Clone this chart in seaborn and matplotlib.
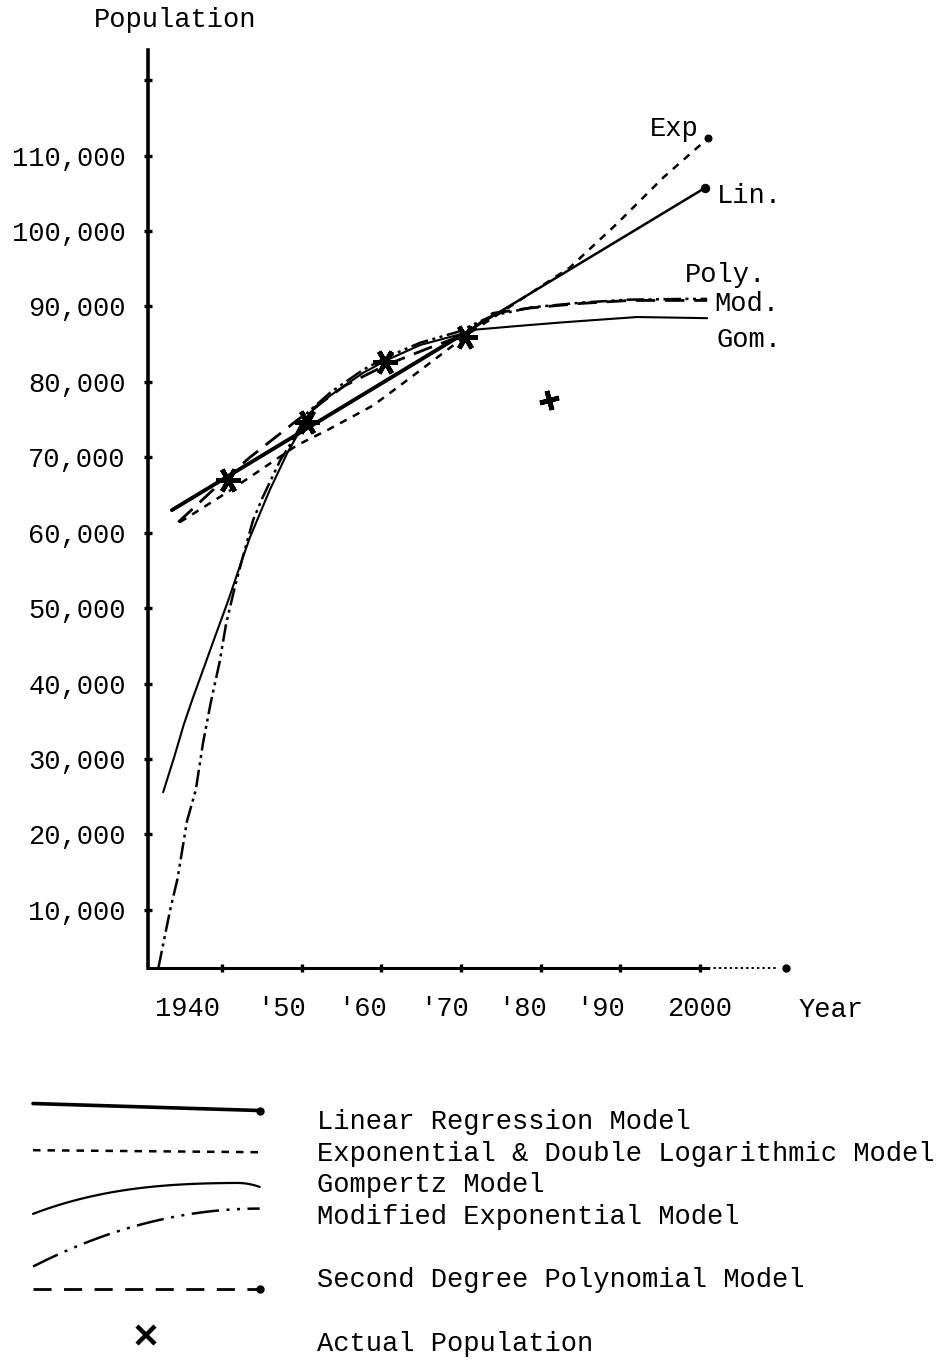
import numpy as np
import matplotlib
matplotlib.use("Agg")
import matplotlib.pyplot as plt
import matplotlib.transforms as mtransforms
from matplotlib.lines import Line2D
from matplotlib.legend_handler import HandlerBase
import seaborn as sns

# ---------------------------------------------------------------- data
lin_years = [1933.7, 1970.5, 2000.6]
lin_values = [63000, 86500, 105700]

exp_years = [1934.7, 1941.0, 1949.4, 1953.2, 1959.0, 1963.2, 1971.1,
             1983.7, 1989.6, 1995.4, 2001.0]
exp_values = [61400, 65600, 71600, 73600, 76900, 80200, 86500,
              95200, 101000, 107100, 112300]

gom_years = [1932.6, 1934.0, 1935.2, 1936.3, 1937.4, 1938.9, 1940.8, 1942.5,
             1943.5, 1946.0, 1948.2, 1949.8, 1951.0, 1953.6, 1957.7, 1960.7,
             1964.9, 1969.5, 1971.5, 1977.0, 1982.8, 1992.1, 2000.9]
gom_values = [25600, 30300, 34600, 38000, 41200, 45600, 51100, 56400,
              59400, 65700, 70600, 73600, 75900, 78200, 81200, 82900,
              84900, 86200, 86900, 87400, 87900, 88600, 88450]

mod_years = [1932.0, 1933.5, 1934.4, 1935.6, 1936.7, 1937.6, 1938.6, 1939.7,
             1940.5, 1941.6, 1942.5, 1943.9, 1945.1, 1947.3, 1948.9, 1950.7,
             1953.6, 1957.7, 1960.7, 1964.9, 1969.5, 1974.0, 1979.0, 1985.0,
             1991.0, 1997.9, 2000.9]
mod_values = [2300, 10100, 14100, 21800, 25900, 32100, 37600, 42900,
              47900, 52800, 56400, 61700, 64700, 69600, 72300, 75900,
              78600, 81600, 83300, 85200, 86600, 88800, 89900, 90500,
              90900, 91000, 91000]

poly_years = [1934.5, 1940.0, 1943.5, 1949.4, 1955.4, 1960.5, 1965.5,
              1970.5, 1974.0, 1978.7, 1985.0, 1991.2, 2000.9]
poly_values = [61400, 66800, 70000, 74900, 79500, 82200, 84300,
               86300, 89100, 89800, 90400, 90800, 90800]

actual_years = [1940.8, 1950.7, 1960.5, 1970.5, 1981.0]
actual_values = [67000, 74700, 82600, 86000, 77600]

year_ticks = [1940, 1950, 1960, 1970, 1980, 1990, 2000]
year_labels = ["1940", "'50", "'60", "'70", "'80", "'90", "2000"]
pop_ticks = [10000, 20000, 30000, 40000, 50000, 60000, 70000, 80000,
             90000, 100000, 110000, 120000]
pop_labels = ["10,000", "20,000", "30,000", "40,000", "50,000", "60,000",
              "70,000", "80,000", "90,000", "100,000", "110,000", ""]

legend_labels = ["Linear Regression Model",
                 "Exponential & Double Logarithmic Model",
                 "Gompertz Model",
                 "Modified Exponential Model",
                 "Second Degree Polynomial Model",
                 "Actual Population"]

# ---------------------------------------------------------------- style
sns.set_theme(style="white")
plt.rcParams["font.family"] = ["Liberation Mono", "DejaVu Sans Mono"]
FS = 19.5
INK = "black"

X0, X1 = 1930.7, 2011.3
Y0, Y1 = 2300, 124000

fig = plt.figure(figsize=(9.49, 13.6), dpi=100)
fig.patch.set_facecolor("white")
ax = fig.add_axes([148 / 949, 1 - 968 / 1360, (790 - 148) / 949, (968 - 50) / 1360])
ax.set_facecolor("white")

LS_EXP = (0, (3.0, 2.8))
LS_MOD = (0, (7.0, 1.8, 1.2, 1.8, 1.2, 1.8))
LS_POLY = (0, (7.0, 3.5))

# ---------------------------------------------------------------- model curves
sns.lineplot(x=lin_years[:2], y=lin_values[:2], ax=ax, color=INK, lw=2.8,
             estimator=None, sort=False)
sns.lineplot(x=lin_years[1:], y=lin_values[1:], ax=ax, color=INK, lw=1.8,
             estimator=None, sort=False, marker="o", markersize=6,
             markevery=[-1], markeredgecolor=INK)
sns.lineplot(x=exp_years, y=exp_values, ax=ax, color=INK, lw=1.8,
             linestyle=LS_EXP, estimator=None, sort=False,
             marker="o", markersize=5, markevery=[-1], markeredgecolor=INK)
sns.lineplot(x=gom_years, y=gom_values, ax=ax, color=INK, lw=1.5,
             estimator=None, sort=False)
sns.lineplot(x=mod_years, y=mod_values, ax=ax, color=INK, lw=1.8,
             linestyle=LS_MOD, estimator=None, sort=False)
sns.lineplot(x=poly_years, y=poly_values, ax=ax, color=INK, lw=2.0,
             linestyle=LS_POLY, estimator=None, sort=False)

# actual census counts
sns.lineplot(x=actual_years[:4], y=actual_values[:4], ax=ax, color=INK,
             linestyle="none", marker=(6, 2, 90), markersize=18,
             markeredgewidth=3.4, markeredgecolor=INK, estimator=None,
             sort=False)
sns.lineplot(x=actual_years[4:], y=actual_values[4:], ax=ax, color=INK,
             linestyle="none", marker=(4, 2, 15), markersize=14,
             markeredgewidth=3.4, markeredgecolor=INK, estimator=None,
             sort=False)

# end-of-curve labels
end_labels = [
    ("Exp", exp_years[-1], exp_values[-1], -42, 7),
    ("Lin.", lin_years[-1], lin_values[-1], 9, -6),
    ("Poly.", poly_years[-1], poly_values[-1], -16, 18),
    ("Mod.", mod_years[-1], mod_values[-1], 5, -4),
    ("Gom.", gom_years[-1], gom_values[-1], 6.5, -16),
]
for txt, xv, yv, dx, dy in end_labels:
    ax.annotate(txt, xy=(xv, yv), xytext=(dx, dy), textcoords="offset points",
                ha="left", va="center", fontsize=FS, color=INK)

# ---------------------------------------------------------------- axes
ax.set_xlim(X0, X1)
ax.set_ylim(Y0, Y1)
for side in ("top", "right"):
    ax.spines[side].set_visible(False)
ax.spines["left"].set_linewidth(2.6)
ax.spines["left"].set_color(INK)
ax.spines["bottom"].set_linewidth(2.2)
ax.spines["bottom"].set_color(INK)
ax.spines["bottom"].set_bounds(X0, 2001.0)
ax.plot([2001.0, 2009.5], [Y0, Y0], color=INK, lw=1.4, linestyle=(0, (1.2, 1.6)),
        clip_on=False)
ax.plot([2010.8], [Y0], color=INK, marker="o", markersize=5, clip_on=False)

ax.set_xticks(year_ticks, year_labels)
ax.set_yticks(pop_ticks, pop_labels)
ax.tick_params(axis="both", which="major", bottom=True, left=True,
               direction="inout", length=6, width=2.4, color=INK,
               labelsize=FS, labelcolor=INK)
ax.tick_params(axis="x", pad=17)
ax.tick_params(axis="y", pad=13)
ax.set_xlabel("")
ax.set_ylabel("")
ax.grid(False)

x_shift_px = [-35, -20, -19, -17, -18, -20, 0]
for lab, dx in zip(ax.get_xticklabels(), x_shift_px):
    lab.set_transform(lab.get_transform() +
                      mtransforms.ScaledTranslation(dx / 100, 0, fig.dpi_scale_trans))

fig.text(175 / 949, 1 - 20 / 1360, "Population", ha="center", va="center",
         fontsize=FS, color=INK)
fig.text(831 / 949, 1 - 1010 / 1360, "Year", ha="center", va="center",
         fontsize=FS, color=INK)


# ---------------------------------------------------------------- legend
PX = 0.72  # pixels -> points at 100 dpi


class Swatch(HandlerBase):
    """Legend sample drawn as a straight or bowed stroke (or a lone marker)."""

    def __init__(self, start=0.0, end=0.0, power=1.0, hook=0.0,
                 end_dot=False, marker=None, lift=0.0, **kw):
        super().__init__(**kw)
        self.start, self.end, self.power = start * PX, end * PX, power
        self.hook, self.end_dot = hook * PX, end_dot
        self.marker, self.lift = marker, lift * PX

    def create_artists(self, legend, orig_handle, xdescent, ydescent,
                       width, height, fontsize, trans):
        yc = (height - ydescent) / 2
        if self.marker is not None:
            art = Line2D([width / 2 - xdescent], [yc + self.lift],
                         marker=self.marker, linestyle="none", color=INK,
                         markersize=13, markeredgewidth=3.2)
            art.set_transform(trans)
            return [art]
        t = np.linspace(0, 1, 90)
        x = -xdescent + width * t
        y = (yc + self.end + (self.start - self.end) * (1 - t) ** self.power
             - self.hook * np.clip((t - 0.9) / 0.1, 0, 1) ** 2)
        line = Line2D(x, y)
        line.update_from(orig_handle)
        line.set_marker("None")
        line.set_transform(trans)
        arts = [line]
        if self.end_dot:
            dot = Line2D([x[-1]], [y[-1]], marker="o", markersize=5,
                         color=INK, linestyle="none")
            dot.set_transform(trans)
            arts.append(dot)
        return arts


h_lin = Line2D([], [], color=INK, lw=2.6)
h_exp = Line2D([], [], color=INK, lw=1.8, linestyle=LS_EXP)
h_gom = Line2D([], [], color=INK, lw=1.6)
h_mod = Line2D([], [], color=INK, lw=1.8, linestyle=(0, (11, 3, 1.2, 3, 1.2, 3)))
h_gap1 = Line2D([], [], linestyle="none")
h_poly = Line2D([], [], color=INK, lw=2.0, linestyle=(0, (6.5, 4.5)))
h_gap2 = Line2D([], [], linestyle="none")
h_act = Line2D([], [], linestyle="none")

handles = [h_lin, h_exp, h_gom, h_mod, h_gap1, h_poly, h_gap2, h_act]
labels = legend_labels[:4] + [" "] + [legend_labels[4]] + [" "] + [legend_labels[5]]
hmap = {
    h_lin: Swatch(start=16, end=9, end_dot=True),
    h_exp: Swatch(start=1, end=-1),
    h_gom: Swatch(start=-31, end=0, power=2.8, hook=4),
    h_mod: Swatch(start=-52, end=6, power=2.0),
    h_poly: Swatch(start=-11, end=-11, end_dot=True),
    h_act: Swatch(marker="x", lift=6),
}
fig.legend(handles, labels, handler_map=hmap, loc="upper left",
           bbox_to_anchor=(33 / 949, 1 - 1109 / 1360),
           frameon=False, fontsize=FS, handlelength=8.37, handletextpad=2.12,
           labelspacing=0.21, borderpad=0, borderaxespad=0,
           labelcolor=INK)

fig.savefig("out.png", dpi=100, facecolor="white")
